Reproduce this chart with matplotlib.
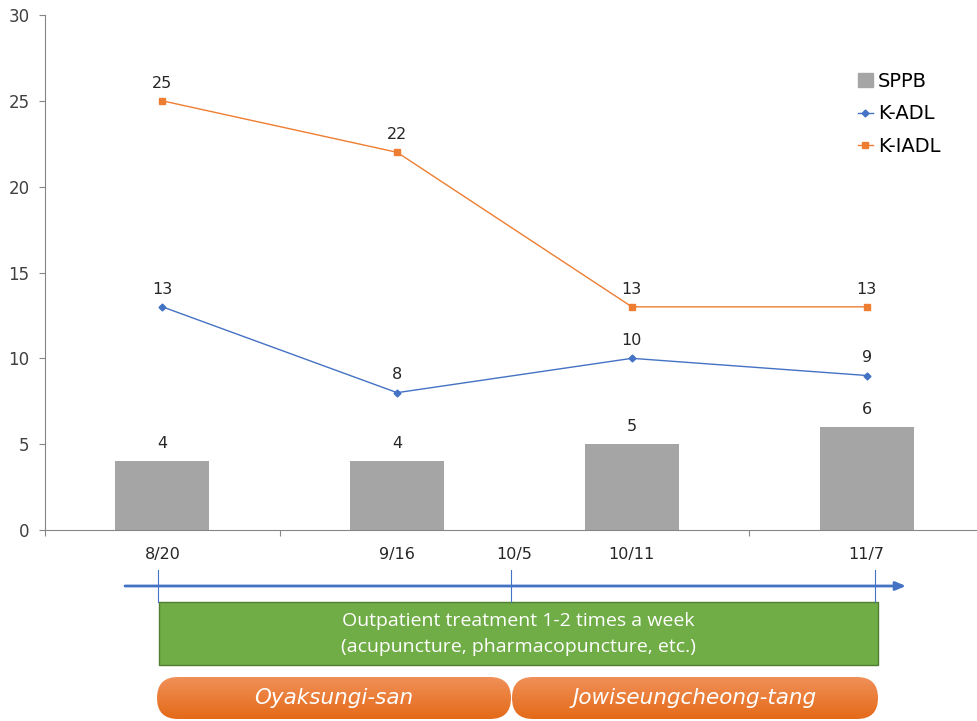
import matplotlib.pyplot as plt
import numpy as np
from matplotlib.patches import FancyBboxPatch, Rectangle
from matplotlib.lines import Line2D

dates = ['8/20', '9/16', '10/11', '11/7']
sppb = [4, 4, 5, 6]
k_adl = [13, 8, 10, 9]
k_iadl = [25, 22, 13, 13]

# extra date on the timeline (falls between 9/16 and 10/11)
mid_date = '10/5'
mid_pos = 1.5

treatment = 'Outpatient treatment 1-2 times a week\n(acupuncture, pharmacopuncture, etc.)'
herbs = ['Oyaksungi-san', 'Jowiseungcheong-tang']

plt.rcParams['font.family'] = ['DejaVu Sans']

W, H = 978, 721
fig = plt.figure(figsize=(W / 100, H / 100), dpi=100)

# main chart
ax = fig.add_axes([45 / W, 1 - 530 / H, 939 / W, 515 / H])
x = np.arange(len(dates))
ax.bar(x, sppb, width=0.4, color='#A5A5A5', zorder=2)
ax.plot(x, k_adl, color='#4472C4', lw=1, marker='D', ms=3.5, zorder=3)
ax.plot(x, k_iadl, color='#ED7D31', lw=1, marker='s', ms=4.5, zorder=3)

for series in (sppb, k_adl, k_iadl):
    for xi, v in zip(x, series):
        ax.text(xi, v + 0.6, str(v), ha='center', va='bottom', fontsize=11.5, color='#262626')

ax.set_xlim(-0.5, 3.5)
ax.set_ylim(0, 30)
ax.set_yticks(range(0, 31, 5))
pos = [0, 1, mid_pos, 2, 3]
ax.set_xticks(pos)
ax.set_xticklabels(dates[:2] + [mid_date] + dates[2:])
ax.set_xticks([-0.5, 0.5, 1.5, 2.5], minor=True)
ax.tick_params(axis='x', which='major', length=0, pad=12, labelsize=11.5, labelcolor='#262626')
ax.tick_params(axis='x', which='minor', length=4, color='#868686', width=0.8)
ax.tick_params(axis='y', length=4, color='#868686', width=0.8, labelsize=12,
               labelcolor='#404040', pad=7)
for s in ['top', 'right']:
    ax.spines[s].set_visible(False)
for s in ['left', 'bottom']:
    ax.spines[s].set_color('#868686')
    ax.spines[s].set_linewidth(0.8)

handles = [Rectangle((0, 0), 1, 1, color='#A5A5A5'),
           Line2D([], [], color='#4472C4', lw=1, marker='D', ms=3.5),
           Line2D([], [], color='#ED7D31', lw=1, marker='s', ms=4.5)]
fig.legend(handles, ['SPPB', 'K-ADL', 'K-IADL'], loc='upper left',
           bbox_to_anchor=(848 / W, 1 - 62 / H), frameon=False, fontsize=14,
           handlelength=0.8, handletextpad=0.25, labelspacing=0.7, borderpad=0)

# timeline overlay in pixel units
ov = fig.add_axes([0, 0, 1, 1])
ov.set_xlim(0, W)
ov.set_ylim(H, 0)
ov.axis('off')

ov.annotate('', xy=(906, 586), xytext=(125, 586),
            arrowprops=dict(arrowstyle='-|>,head_length=0.6,head_width=0.25',
                            color='#4472C4', lw=2, shrinkA=0, shrinkB=0))
for px in [158, 511, 875]:
    ov.plot([px, px], [570, 602], color='#4472C4', lw=0.8)

ov.add_patch(Rectangle((159, 602), 719, 63, facecolor='#70AD47',
                       edgecolor='#507E32', lw=1))
ov.text(518, 634, treatment, ha='center', va='center', color='white',
        fontsize=14, family='Open Sans', linespacing=1.5)

grad = np.linspace(0, 1, 64).reshape(-1, 1)
top = np.array([0xF0, 0x90, 0x58]) / 255
bot = np.array([0xE4, 0x6A, 0x18]) / 255
img = top + (bot - top) * grad[:, :, None]
for (x0, x1), label in zip([(157, 511), (512, 878)], herbs):
    box = FancyBboxPatch((x0, 677), x1 - x0, 42,
                         boxstyle='round,pad=0,rounding_size=21',
                         facecolor='none', edgecolor='none')
    ov.add_patch(box)
    im = ov.imshow(np.repeat(img, 2, axis=1), extent=(x0, x1, 719, 677),
                   aspect='auto', zorder=1)
    im.set_clip_path(box)
    ov.text((x0 + x1) / 2, 698, label, ha='center', va='center', color='white',
            fontsize=15.5, style='italic', family='DejaVu Sans', zorder=2)
ov.set_xlim(0, W)
ov.set_ylim(H, 0)

fig.savefig('out.png', dpi=100)
